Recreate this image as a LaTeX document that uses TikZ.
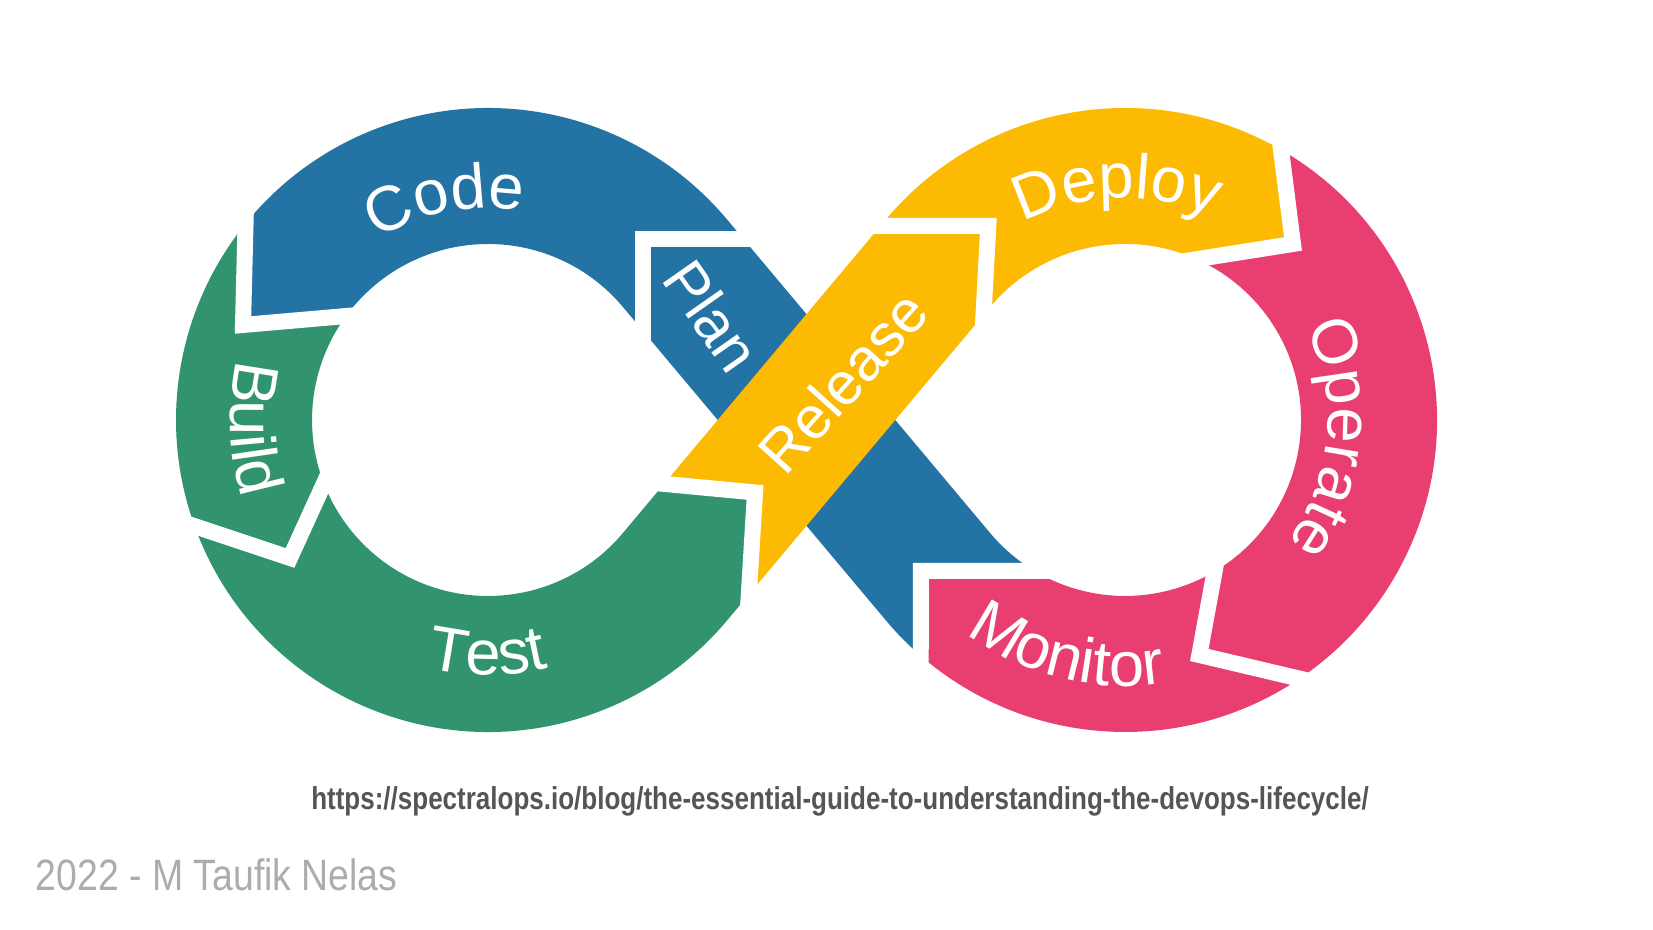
\documentclass[tikz,border=0pt]{standalone}
\usepackage{fontspec}
\setmainfont{Liberation Sans}
\usetikzlibrary{calc,decorations.text}

\definecolor{devblue}{RGB}{35,115,164}
\definecolor{devgreen}{RGB}{50,148,110}
\definecolor{devyellow}{RGB}{252,187,2}
\definecolor{devpink}{RGB}{232,62,112}
\definecolor{urlgray}{RGB}{85,85,85}
\definecolor{footgray}{RGB}{172,172,172}

\newcommand{\ringout}{31.2mm}
\newcommand{\ringin}{17.6mm}
\newcommand{\labelsize}{\fontsize{18}{18}\selectfont}

\tikzset{
  gapline/.style={draw=white, line width=1.6mm},
  arclabel/.style={decorate, decoration={text along path, text color=white,
      text align=center, text={|\labelsize|#1}}},
  bandlabel/.style={text=white, inner sep=0pt, font=\fontsize{17}{17}\selectfont},
}

\begin{document}
\begin{tikzpicture}[x=0.1mm,y=0.1mm]
                \useasboundingbox (0,0) rectangle (1653,930);

                % Loop centres
                \coordinate (L) at (488,510);
                \coordinate (C) at (1125,510);

                % Boundary Plan / Code
                \coordinate (b1p) at (642.5,599.6);
                \coordinate (b1a) at (642.5,690.5);
                \coordinate (b1q) at (743.8,690.5);
                % Boundary Code / Build
                \coordinate (b2p) at ($(L)+(143.8:\ringin)$);
                \coordinate (b2a) at (243.0,605.0);
                \coordinate (b2q) at ($(L)+(141.0:\ringout)$);
                % Boundary Build / Test
                \coordinate (b3p) at ($(L)+(201.2:\ringin)$);
                \coordinate (b3a) at (290.0,372.0);
                \coordinate (b3q) at ($(L)+(199.9:\ringout)$);
                % Boundary Test / Release
                \coordinate (b4p) at (664.1,446.1);
                \coordinate (b4a) at (755.0,437.5);
                \coordinate (b4q) at (748.8,335.4);
                % Boundary Release / Deploy
                \coordinate (b5p) at (880.6,704.2);
                \coordinate (b5a) at (988.3,704.2);
                \coordinate (b5q) at (983.5,615.2);
                % Boundary Deploy / Operate
                \coordinate (b6p) at ($(C)+(60:\ringout)$);
                \coordinate (b6a) at (1293.0,686.0);
                \coordinate (b6q) at ($(C)+(66:\ringin)$);
                % Boundary Operate / Monitor
                \coordinate (b7p) at ($(C)+(-56:\ringout)$);
                \coordinate (b7a) at (1199.3,275.0);
                \coordinate (b7q) at ($(C)+(-59.4:\ringin)$);
                % Boundary Monitor / Plan
                \coordinate (b8p) at ($(C)+(229.1:\ringout)$);
                \coordinate (b8a) at (920.8,359.0);
                \coordinate (b8q) at ($(C)+(239.1:\ringin)$);

                % Drawing segment Code
                \fill [devblue] (b1a) -- (b1q) -- ($(L)+(40:\ringout)$)
                  arc [start angle=40, end angle=141.0, radius=\ringout] -- (b2a) -- (b2p)
                  arc [start angle=143.8, end angle=40, radius=\ringin] -- (b1p) -- cycle;%

                % Drawing segment Build
                \fill [devgreen] (b2a) -- (b2q)
                  arc [start angle=141.0, end angle=199.9, radius=\ringout] -- (b3a) -- (b3p)
                  arc [start angle=201.2, end angle=143.8, radius=\ringin] -- cycle;%

                % Drawing segment Test
                \fill [devgreen] (b3a) -- (b3q)
                  arc [start angle=199.9, end angle=320, radius=\ringout] -- (b4q) -- (b4a) -- (b4p)
                  -- ($(L)+(320:\ringin)$) arc [start angle=320, end angle=201.2, radius=\ringin] -- cycle;%

                % Drawing segment Deploy
                \fill [devyellow] (b5a) -- (b5p) -- ($(C)+(140:\ringout)$)
                  arc [start angle=140, end angle=60, radius=\ringout] -- (b6a) -- (b6q)
                  arc [start angle=66, end angle=140, radius=\ringin] -- (b5q) -- cycle;%

                % Drawing segment Operate
                \fill [devpink] (b6a) -- (b6p)
                  arc [start angle=60, end angle=-56, radius=\ringout] -- (b7a) -- (b7q)
                  arc [start angle=-59.4, end angle=66, radius=\ringin] -- cycle;%

                % Drawing segment Monitor
                \fill [devpink] (b7a) -- (b7p)
                  arc [start angle=-56, end angle=-130.9, radius=\ringout] -- (b8a) -- (b8q)
                  arc [start angle=-120.9, end angle=-59.4, radius=\ringin] -- cycle;%

                % Drawing segment Plan
                \fill [devblue] (b8a) -- (b8q)
                  arc [start angle=239.1, end angle=220, radius=\ringin] -- (b1q) -- (b1a) -- (b1p)
                  -- ($(C)+(220:\ringout)$) arc [start angle=220, end angle=229.1, radius=\ringout] -- cycle;%

                % Drawing segment Release
                \fill [devyellow] (b4a) -- (b4q) -- (b5q) -- (b5a) -- (b5p) -- (b4p) -- cycle;%

                % Drawing white gaps
                \foreach \k in {1,...,8}
                  \draw [gapline] ($(b\k a)!1.2!(b\k p)$) -- (b\k a) -- ($(b\k a)!1.2!(b\k q)$);%

                % Marking stage names
                \path [arclabel=Code] ($(L)+(150:21.2mm)$) arc [start angle=150, end angle=52, radius=21.2mm];%
                \path [arclabel=Build] ($(L)+(150:25.8mm)$) arc [start angle=150, end angle=214, radius=25.8mm];%
                \path [arclabel=Test] ($(L)+(240:25.5mm)$) arc [start angle=240, end angle=300, radius=25.5mm];%
                \path [arclabel=Deploy] ($(C)+(132:22.2mm)$) arc [start angle=132, end angle=52, radius=22.2mm];%
                \path [arclabel=Operate] ($(C)+(35:20.3mm)$) arc [start angle=35, end angle=-45, radius=20.3mm];%
                \path [arclabel=Monitor] ($(C)+(220:26.6mm)$) arc [start angle=220, end angle=292, radius=26.6mm];%
                \node [bandlabel, rotate=-55] (plan) at (712,614) {Plan};%
                \node [bandlabel, rotate=48] (release) at (843,548) {Release};%

                % Marking source and credit
                \node [text=urlgray, inner sep=0pt, xscale=0.822, font=\bfseries\fontsize{9}{9}\selectfont]
                  (url) at (840,129) {https://spectralops.io/blog/the-essential-guide-to-understanding-the-devops-lifecycle/};%
                \node [anchor=base west, text=footgray, inner sep=0pt, xscale=0.852, font=\fontsize{12.5}{12.5}\selectfont]
                  (credit) at (35,39) {2022 - M Taufik Nelas};%
\end{tikzpicture}
\end{document}
